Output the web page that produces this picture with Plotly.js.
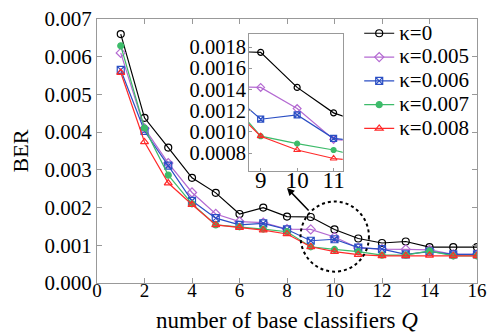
<!DOCTYPE html>
<html><head><meta charset="utf-8">
<script src="https://cdn.plot.ly/plotly-3.0.1.min.js"></script>
<style>html,body{margin:0;padding:0;background:#fff}#c{width:494px;height:333px}</style>
</head><body><div id="c"></div>
<script>
const Q = [1,2,3,4,5,6,7,8,9,10,11,12,13,14,15,16];
const k0    = [0.0066,0.00438,0.00359,0.00279,0.00239,0.00183,0.00200,0.00176,0.00175,0.00142,0.00118,0.00106,0.00110,0.00095,0.00095,0.00095];
const k005  = [0.00610,0.00410,0.00318,0.00240,0.00183,0.00163,0.00160,0.00143,0.00142,0.00122,0.00093,0.00090,0.00089,0.00088,0.00076,0.00076];
const k006  = [0.00565,0.00403,0.00311,0.00218,0.00172,0.00154,0.00158,0.00142,0.00112,0.00116,0.00094,0.00090,0.00076,0.00083,0.00076,0.00076];
const k007  = [0.00629,0.00411,0.00286,0.00210,0.00154,0.00149,0.00143,0.00136,0.00096,0.00089,0.00083,0.00074,0.00074,0.00085,0.00072,0.00072];
const k008  = [0.00558,0.00374,0.00265,0.00208,0.00154,0.00147,0.00140,0.00130,0.00096,0.00083,0.00075,0.00072,0.00072,0.00073,0.00072,0.00072];
const names = ['κ=0','κ=0.005','κ=0.006','κ=0.007','κ=0.008'];
const series = [k0,k005,k006,k007,k008];
const colors = ['#000000','#b46ad2','#2b4fc4','#3dbb6a','#ff2a2a'];
const symbols = ['circle-open','diamond-open','square-x-open','circle','triangle-up-open'];
const xTicks = [0,2,4,6,8,10,12,14,16];
const yTicks = [0,0.001,0.002,0.003,0.004,0.005,0.006,0.007];
const insetX = [9,10,11];
const insetY = [0.0008,0.0010,0.0012,0.0014,0.0016,0.0018];

const font = '"Liberation Serif", serif';
const traces = [];
series.forEach((s,i)=>{
  traces.push({x:Q,y:s,name:'<span style="font-size:21px">'+names[i]+'</span>',type:'scatter',mode:'lines+markers',
    line:{color:colors[i],width:1.2},
    marker:{symbol:symbols[i],size:i===3?6:7,color:colors[i],line:{color:colors[i],width:1.2}},
    xaxis:'x',yaxis:'y'});
});
series.forEach((s,i)=>{
  traces.push({x:Q,y:s,name:names[i],type:'scatter',mode:'lines+markers',showlegend:false,
    line:{color:colors[i],width:1.2},
    marker:{symbol:symbols[i],size:i===3?5:6,color:colors[i],line:{color:colors[i],width:1.2}},
    xaxis:'x2',yaxis:'y2'});
});

const layout = {
  width:494,height:333,
  margin:{l:97,r:17,t:19,b:50},
  paper_bgcolor:'#fff',plot_bgcolor:'#fff',
  font:{family:font,color:'#000',size:20},
  showlegend:true,
  legend:{x:0.69,y:1.01,xanchor:'left',yanchor:'top',bgcolor:'rgba(0,0,0,0)',
    font:{family:font,size:16,color:'#000'},tracegroupgap:0},
  xaxis:{domain:[0,1],range:[0,16],tickvals:xTicks,ticks:'inside',ticklen:5,tickcolor:'#999',
    showline:true,linecolor:'#999',linewidth:1,mirror:'allticks',showgrid:false,zeroline:false,
    tickfont:{family:font,size:19},ticklabelstandoff:-10,
    title:{text:'number of base classifiers <i>Q</i>',font:{family:font,size:23},standoff:20}},
  yaxis:{domain:[0,1],range:[0,0.007],tickvals:yTicks,tickformat:'.3f',ticks:'inside',ticklen:5,tickcolor:'#999',
    showline:true,linecolor:'#999',linewidth:1,mirror:'allticks',showgrid:false,zeroline:false,
    tickfont:{family:font,size:21},
    title:{text:'BER',font:{family:font,size:22},standoff:9}},
  xaxis2:{domain:[0.4,0.6466],anchor:'y2',range:[8.68,11.25],tickvals:insetX,ticks:'inside',ticklen:3,tickcolor:'#999',
    showline:true,linecolor:'#999',linewidth:1,mirror:true,showgrid:false,zeroline:false,
    tickfont:{family:font,size:23},ticklabelstandoff:-11},
  yaxis2:{domain:[0.4254,0.942],anchor:'x2',range:[0.000635,0.00192],tickvals:insetY,tickformat:'.4f',ticks:'inside',ticklen:3,tickcolor:'#999',
    showline:true,linecolor:'#999',linewidth:1,mirror:true,showgrid:false,zeroline:false,
    tickfont:{family:font,size:20.5},ticklabelstandoff:-2},
  shapes:[{type:'circle',xref:'x',yref:'y',x0:8.57,x1:11.45,y0:0.0003,y1:0.00216,
    line:{color:'#000',width:2,dash:'dot'}}],
  annotations:[{xref:'x',yref:'y',axref:'x',ayref:'y',x:8.0,y:0.00252,ax:8.97,ay:0.00188,
    text:'',showarrow:true,arrowhead:2,arrowsize:1,arrowwidth:1.5,arrowcolor:'#000'}]
};
Plotly.newPlot('c',traces,layout,{displayModeBar:false,staticPlot:true});
</script></body></html>
